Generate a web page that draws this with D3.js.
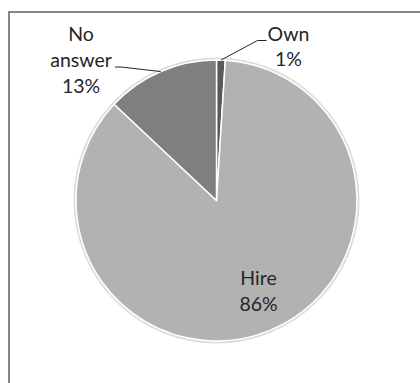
<!DOCTYPE html>
<html>
<head>
<meta charset="utf-8">
<script src="https://cdn.jsdelivr.net/npm/d3@7/dist/d3.min.js"></script>
<style>
  html, body { margin: 0; padding: 0; background: #fff; }
  svg text { font-family: Lato, "Open Sans", sans-serif; fill: #262626; }
</style>
</head>
<body>
<div id="chart"></div>
<script>
// data
var categories = ["Own", "Hire", "No answer"]
var values = [1, 86, 13]
var labelLines = [["Own", "1%"], ["Hire", "86%"], ["No", "answer", "13%"]]
var sliceColors = ["#595959", "#b2b2b2", "#7f7f7f"]

var width = 420, height = 383
var cx = 216.5, cy = 200.5, radius = 140.5

// where each label block sits, relative to the pie centre, and whether it has a leader
var labelLayout = [
    { dx: 72, dy: -159.5, lineH: 24.5, leader: true, side: "left" },
    { dx: 42, dy: 84.5, lineH: 25.5, leader: false },
    { dx: -135.5, dy: -160, lineH: 26, leader: true, side: "right" }
]

var svg = d3.select("#chart")
.append("svg")
.attr("width", width)
.attr("height", height)

// chart frame (runs off the right and bottom of the picture)
svg.append("rect")
.attr("x", 9)
.attr("y", 12)
.attr("width", 600)
.attr("height", 600)
.attr("fill", "none")
.attr("stroke", "#868686")
.attr("stroke-width", 2)

var g = svg.append("g")
.attr("transform", "translate(" + cx + "," + cy + ")")

var pie = d3.pie()
.sort(null)
.value(function(d) { return d })

var arcs = pie(values)

var arc = d3.arc()
.innerRadius(0)
.outerRadius(radius)

// soft edge round the pie
g.append("circle")
.attr("r", radius + 1.5)
.attr("fill", "none")
.attr("stroke", "#dcdcdc")
.attr("stroke-width", 2)

g.selectAll("path.slice")
.data(arcs)
.enter()
.append("path")
.attr("class", "slice")
.attr("d", arc)
.attr("fill", function(d, i) { return sliceColors[i] })
.attr("stroke", "#fff")
.attr("stroke-width", 1.5)
.attr("stroke-linejoin", "round")

// leader lines: from the label to the middle of the slice's outer edge
var edgeArc = d3.arc().innerRadius(radius).outerRadius(radius)

arcs.forEach(function(d, i) {
    var lay = labelLayout[i]
    if (!lay.leader) return
    var mid = (d.startAngle + d.endAngle) / 2
    var ex = Math.sin(mid) * radius, ey = -Math.cos(mid) * radius
    var pts
    if (lay.side === "left") {
        // Own: short horizontal stub then down to the slice
        var y0 = lay.dy - 0.5
        pts = [[lay.dx - 22, y0], [lay.dx - 31, y0], [ex, ey]]
    } else {
        var y1 = lay.dy + lay.lineH + 0.5
        pts = [[lay.dx + 34, y1], [lay.dx + 40, y1], [ex, ey]]
    }
    g.append("path")
    .attr("d", d3.line()(pts))
    .attr("fill", "none")
    .attr("stroke", "#262626")
    .attr("stroke-width", 1)
})

// labels
var labels = g.selectAll("text.label")
.data(arcs)
.enter()
.append("text")
.attr("class", "label")
.attr("text-anchor", "middle")
.style("font-size", "19.5px")

labels.each(function(d, i) {
    var lay = labelLayout[i]
    var t = d3.select(this)
    labelLines[i].forEach(function(line, k) {
        t.append("tspan")
        .attr("x", lay.dx)
        .attr("y", lay.dy + k * lay.lineH)
        .text(line)
    })
})
</script>
</body>
</html>
